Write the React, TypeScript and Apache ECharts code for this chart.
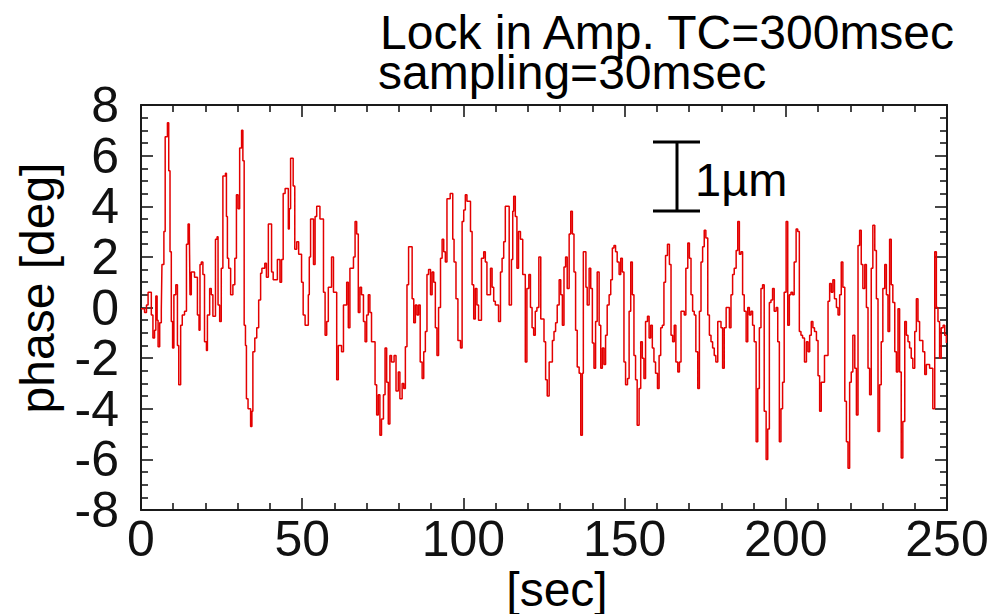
import React, { useEffect, useRef } from "react";
import * as echarts from "echarts";

const FONT = '"Liberation Sans", Arial, Helvetica, sans-serif';

const titleLines = ["Lock in Amp. TC=300msec", "sampling=30msec"];
const xAxisName = "[sec]";
const yAxisName = "phase [deg]";
const scaleLabel = "1µm";
const xMin = 0;
const xMax = 250;
const xStep = 50;
const yMin = -8;
const yMax = 8;
const yStep = 2;

// [time (sec), phase (deg)]
const trace0to40 = [
  [0, -0.05], [1.1, -0.2], [1.7, 0.1], [2.2, 0.6], [3.2, -0.3], [3.7, -1.2], [4.2, -0.9], [4.6, 0.45], [5.0, -0.5], [5.3, -1.55],
  [5.8, -0.6], [6.3, -0.1], [6.5, 1.7], [7.1, 3.0], [7.5, 6.75], [8.2, 7.3], [8.6, 5.4], [9.0, 2.2], [9.4, -0.55], [9.8, -1.6],
  [10.2, 0.5], [10.8, 0.9], [11.3, -1.5], [11.7, -3.05], [12.3, -0.7], [12.8, -0.3], [13.5, -0.15], [14.1, 2.5], [14.6, 3.3], [15.0, 3.0],
  [15.2, 0.5], [15.6, 1.4], [16.6, 1.2], [17.5, -0.3], [18.0, -0.9], [18.3, 1.7], [18.7, 1.8], [19.2, 1.3], [19.7, -1.35], [20.3, -1.7],
  [20.6, -0.3], [21.3, 0.75], [21.8, 0.5], [22.3, -0.35], [23.1, 2.7], [23.6, 2.8], [23.9, 0.1], [24.4, -0.55], [24.9, 1.55], [25.4, 5.2],
  [26.2, 5.3], [26.5, 3.6], [26.8, 1.95], [27.2, 1.55], [27.8, 0.5], [28.5, 0.9], [29.1, 1.95], [29.6, 4.45], [30.1, 3.9], [30.6, 6.3],
  [31.2, 7.0], [31.6, 5.8], [32.0, -0.7], [32.4, -1.5], [32.7, -3.6], [33.2, -4.0], [34.0, -4.7], [34.4, -4.1], [34.7, -1.75], [35.3, -1.2],
  [35.9, -0.8], [36.5, 0.3], [37.1, 1.35], [37.5, 1.55], [38.4, 1.75], [38.9, 1.2], [39.5, 3.3],
];

const trace40to81 = [
  [40.0, 3.3], [40.5, 1.4], [41.0, 1.1], [42.3, 1.9], [43.1, 1.0], [43.6, 1.9], [44.1, 4.5], [44.7, 4.7], [45.7, 3.1], [46.0, 3.9],
  [46.4, 5.9], [47.2, 4.8], [47.7, 2.3], [48.3, 2.6], [48.9, 2.1], [49.8, 1.0], [50.3, -0.3], [50.9, -0.7], [51.9, 0.5], [52.2, 2.0],
  [52.6, 3.5], [53.5, 1.7], [54.0, 3.6], [54.5, 4.0], [55.5, 3.5], [56.6, 0.6], [57.1, -1.1], [57.6, -0.55], [58.1, 0.8], [59.1, 2.0],
  [59.7, 0.6], [60.7, -2.85], [61.2, -1.5], [62.2, -1.75], [62.8, 0.1], [63.8, 1.0], [64.3, -0.8], [64.8, 1.55], [65.9, 2.0], [66.4, 3.4],
  [66.9, 2.9], [67.4, -0.2], [67.9, 0.8], [68.4, 0.5], [69.0, -0.55], [69.5, -1.35], [70.0, -0.3], [70.5, 0.5], [71.0, -0.2], [71.5, -1.35],
  [72.6, -3.05], [73.1, -4.25], [73.6, -3.45], [74.1, -5.05], [74.6, -4.4], [75.2, -3.45], [75.7, -1.6], [76.2, -2.95], [76.7, -4.6], [77.2, -1.9],
  [77.7, -2.15], [78.5, -1.9], [79.1, -3.3], [79.8, -2.55], [80.3, -3.6],
];

const trace81to124 = [
  [81.0, -3.0], [81.5, -3.2], [82.0, -1.55], [82.5, 0.9], [83.0, 2.4], [84.1, 0.35], [84.6, -0.6], [85.1, 0.1], [85.6, -0.3], [86.1, 0.1],
  [86.6, -2.15], [87.2, -2.8], [87.7, -1.75], [88.2, -0.95], [88.7, 1.3], [89.2, 1.5], [89.8, 0.5], [90.3, 1.4], [90.8, 1.0], [91.3, -0.8],
  [91.8, -1.9], [92.3, 0], [92.9, 1.95], [93.4, 2.7], [93.9, 2.2], [94.4, 1.8], [94.9, 4.3], [95.9, 4.5], [96.7, 2.7], [97.1, 1.8],
  [97.7, 0.35], [98.3, -1.3], [99.1, -1.6], [99.6, 3.4], [100.1, 3.85], [100.6, 4.45], [101.1, 4.2], [102.2, 3.0], [102.7, 0.9], [103.2, -0.45],
  [103.7, 0.75], [104.2, 0.1], [104.7, -0.5], [105.6, 1.95], [106.3, 2.2], [106.8, 1.8], [107.3, 0.5], [108.4, 1.55], [108.9, 0.8], [109.4, 0.25],
  [109.9, 0.1], [110.9, -0.55], [111.5, 1.4], [112.0, 1.95], [112.5, 2.6], [113.0, 4.0], [114.2, 0.1], [114.9, 1.9], [115.3, 3.8], [115.6, 4.4],
  [116.1, 3.6], [116.6, 1.55], [117.1, 3.0], [117.7, 2.7], [118.4, 1.3], [119.2, -2.15], [119.7, 0.75], [120.3, 1.3], [120.8, 0], [121.3, -0.8],
  [121.8, -1.1], [122.3, -0.15], [122.8, 0], [123.4, 2.0],
];

const trace124to165 = [
  [124.0, -0.45], [125.0, -1.35], [125.5, -2.85], [126.0, -3.5], [126.6, -2.15], [127.6, -1.3], [128.1, -0.95], [128.6, -0.6], [129.1, 0.1], [129.7, 1.1],
  [130.2, 0.5], [130.7, -0.7], [131.2, 1.6], [131.7, 2.0], [132.2, 0.75], [132.8, 2.9], [133.3, 3.8], [133.8, 2.9], [134.3, 1.4], [134.8, -0.9],
  [135.3, -2.35], [135.9, -2.6], [136.4, -5.05], [136.9, -2.6], [137.2, 2.2], [138.0, 0.8], [138.4, 0.1], [139.0, 1.55], [139.5, 0.75], [140.0, -1.4],
  [140.5, -2.4], [141.0, -0.55], [141.5, 1.4], [142.1, -0.7], [142.6, -2.4], [143.1, -1.6], [143.6, -2.25], [144.1, -1.1], [144.6, 0.1], [145.2, 0.5],
  [145.7, 1.1], [146.2, 2.35], [146.7, 2.45], [147.2, 2.2], [147.7, 1.8], [148.3, 1.3], [148.8, 1.95], [149.3, 1.4], [149.8, -2.15], [150.3, -3.05],
  [150.9, -2.8], [151.4, -0.15], [151.9, 1.8], [152.4, 0.5], [152.9, -1.9], [153.4, -2.85], [153.9, -4.65], [154.5, -3.2], [155.0, -1.35], [155.5, -2.0],
  [156.0, -2.8], [156.5, -0.55], [157.1, -0.35], [157.6, -1.2], [158.1, -0.7], [158.6, -1.6], [159.1, -2.15], [159.6, -2.6], [160.2, -3.2], [160.7, -1.9],
  [161.2, -0.8], [161.7, -0.7], [162.2, 1.0], [162.7, 2.05], [163.3, 2.5], [163.9, 1.7], [164.4, -1.1],
];

const trace165to205 = [
  [164.9, -1.35], [165.4, -0.7], [165.9, -2.15], [166.5, -2.55], [167.0, -2.15], [167.5, -0.15], [168.5, -0.3], [169.0, 1.55], [169.6, 2.55], [170.1, 1.95],
  [170.6, 0.5], [171.1, -0.15], [171.6, -0.3], [172.1, -1.75], [172.7, -3.2], [173.2, -0.15], [173.7, 1.8], [174.2, 2.4], [174.7, 3.05], [175.2, 2.75],
  [175.8, -0.3], [176.3, -1.1], [176.8, -1.35], [177.3, -1.6], [177.8, -1.9], [178.3, -2.15], [178.9, -0.55], [179.9, -0.8], [180.4, -2.4], [180.9, -0.8],
  [181.5, 0], [182.5, -0.8], [183.0, 0.5], [183.5, 1.3], [184.0, 1.55], [184.6, 2.25], [185.1, 3.4], [185.6, 2.1], [186.1, 2.2], [186.6, 0.5],
  [187.1, -0.15], [187.7, -1.35], [188.2, 0], [188.7, -0.3], [189.2, -0.15], [189.7, -0.7], [190.2, -1.35], [190.8, -5.3], [191.3, -3.2], [191.8, -0.8],
  [192.3, 0.75], [192.8, 0.9], [193.3, -4.1], [193.9, -6.0], [194.4, -4.8], [194.9, 0.2], [195.4, 0.3], [195.9, 0.75], [196.4, -0.15], [197.0, 0],
  [197.5, -1.35], [198.0, -5.3], [198.5, -4.0], [199.0, -2.95], [199.5, 0.6], [200.1, 3.4], [200.6, -0.7], [201.1, 0.5], [201.6, 0.6], [202.1, 0.5],
  [202.6, 1.8], [203.2, 3.1], [203.7, 3.0], [204.2, -0.95], [204.7, -1.1], [205.2, -1.2],
];

const trace205to250 = [
  [205.8, -2.15], [206.4, -1.35], [206.9, -1.75], [207.4, -1.1], [207.9, -0.55], [208.4, -0.8], [208.9, -0.95], [209.5, -1.3], [210.0, -2.7], [210.5, -4.1],
  [211.0, -2.95], [212.0, -1.9], [213.1, 0.25], [213.6, 0.95], [214.1, 0.6], [214.6, 1.1], [215.1, 0.35], [215.7, 0], [216.2, -0.3], [216.7, 0.5],
  [217.2, 1.8], [217.7, 0.8], [218.3, -3.7], [218.8, -5.3], [219.3, -6.35], [219.8, -2.95], [220.3, -2.55], [220.8, -1.1], [221.4, -2.4], [221.9, -4.25],
  [222.4, 2.45], [222.9, 3.05], [223.4, 1.7], [223.9, 0.75], [224.5, 1.7], [225.0, 0], [225.5, -2.4], [226.0, -3.45], [226.5, 1.55], [227.0, 3.25],
  [227.6, 2.25], [228.1, 0.35], [228.6, -4.9], [229.1, -3.05], [229.6, -1.35], [230.1, 0.75], [230.7, 1.7], [231.2, 0.5], [231.7, -0.95], [232.2, 2.7],
  [232.7, 0.9], [233.2, 0.2], [233.8, -1.75], [234.3, -2.55], [234.8, -0.05], [235.3, -2.55], [235.8, -5.95], [236.3, -4.5], [236.9, -0.55], [237.4, -1.1],
  [237.9, -1.35], [238.4, -1.6], [238.9, -2.0], [239.4, -2.4], [240.0, -0.95], [240.5, 0.35], [241.0, -0.55], [241.5, -1.3], [242.5, -1.75], [243.1, -2.65],
  [243.6, -2.25], [244.6, -2.4], [245.6, -4.0], [246.2, 2.2], [246.7, 0], [247.2, -0.55], [247.7, -2.0], [248.2, -0.8], [248.8, -0.7], [249.3, -1.1],
  [249.8, -1.4], [250, -1.4],
];

export default function App() {
  const ref = useRef<HTMLDivElement>(null);

  useEffect(() => {
    if (!ref.current) return;
    const chart = echarts.init(ref.current, undefined, { renderer: "svg" });
    const data = [
      ...trace0to40,
      ...trace40to81,
      ...trace81to124,
      ...trace124to165,
      ...trace165to205,
      ...trace205to250,
    ];

    const frame = "#1a1a1a";
    const tickStyle = { color: frame, width: 1.6 };
    const makeX = (pos: "bottom" | "top", labels: boolean) => ({
      type: "value",
      position: pos,
      min: xMin,
      max: xMax,
      interval: xStep,
      axisLine: { show: true, onZero: false, lineStyle: { color: frame, width: 2 } },
      axisTick: { show: true, inside: true, length: 12, lineStyle: tickStyle },
      minorTick: { show: true, splitNumber: 5, length: 7, lineStyle: tickStyle },
      splitLine: { show: false },
      minorSplitLine: { show: false },
      axisLabel: {
        show: labels,
        fontSize: 50,
        fontFamily: FONT,
        color: "#111",
        margin: 4,
      },
    });
    const makeY = (pos: "left" | "right", labels: boolean) => ({
      type: "value",
      position: pos,
      min: yMin,
      max: yMax,
      interval: yStep,
      axisLine: { show: true, onZero: false, lineStyle: { color: frame, width: 2 } },
      axisTick: { show: true, inside: true, length: 12, lineStyle: tickStyle },
      minorTick: { show: true, splitNumber: 4, length: 7, lineStyle: tickStyle },
      splitLine: { show: false },
      minorSplitLine: { show: false },
      axisLabel: {
        show: labels,
        fontSize: 50,
        fontFamily: FONT,
        color: "#111",
        margin: 22,
        padding: [0, 0, 22, 0],
      },
    });

    chart.setOption({
      animation: false,
      backgroundColor: "#ffffff",
      grid: { left: 141, top: 105, width: 806, height: 405, containLabel: false },
      xAxis: [makeX("bottom", true), makeX("top", false)],
      yAxis: [makeY("left", true), makeY("right", false)],
      series: [
        {
          type: "line",
          xAxisIndex: 0,
          yAxisIndex: 0,
          step: "end",
          showSymbol: false,
          symbol: "none",
          data,
          lineStyle: { color: "#e30000", width: 1.5 },
          silent: true,
        },
      ],
      graphic: [
        {
          type: "text",
          x: 380,
          y: 32,
          style: { text: titleLines[0], fontSize: 48, lineHeight: 38, fontFamily: FONT, fill: "#000", align: "left", verticalAlign: "middle" },
        },
        {
          type: "text",
          x: 378,
          y: 72,
          style: { text: titleLines[1], fontSize: 48, lineHeight: 38, fontFamily: FONT, fill: "#000", align: "left", verticalAlign: "middle" },
        },
        {
          type: "text",
          x: 37,
          y: 288,
          rotation: Math.PI / 2,
          style: { text: yAxisName, fontSize: 48, fontFamily: FONT, fill: "#000", align: "center", verticalAlign: "middle" },
        },
        {
          type: "text",
          x: 557,
          y: 589,
          style: { text: xAxisName, fontSize: 48, fontFamily: FONT, fill: "#000", align: "center", verticalAlign: "middle" },
        },
        { type: "line", shape: { x1: 677, y1: 142, x2: 677, y2: 211 }, style: { stroke: "#000", lineWidth: 3 } },
        { type: "line", shape: { x1: 653, y1: 142, x2: 700, y2: 142 }, style: { stroke: "#000", lineWidth: 3 } },
        { type: "line", shape: { x1: 653, y1: 211, x2: 700, y2: 211 }, style: { stroke: "#000", lineWidth: 3 } },
        {
          type: "text",
          x: 695,
          y: 179,
          style: { text: scaleLabel, fontSize: 47, fontFamily: FONT, fill: "#000", align: "left", verticalAlign: "middle" },
        },
      ],
    });

    return () => chart.dispose();
  }, []);

  return (
    <div
      ref={ref}
      style={{ position: "fixed", left: 0, top: 0, width: 1006, height: 614, background: "#fff" }}
    />
  );
}
